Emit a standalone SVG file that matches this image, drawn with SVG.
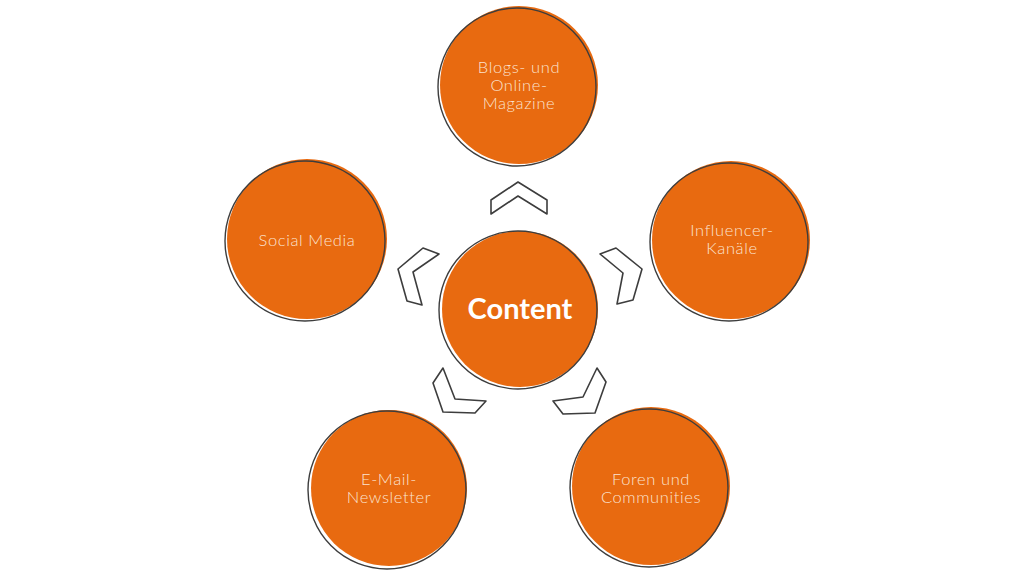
<svg xmlns="http://www.w3.org/2000/svg" width="1024" height="576" viewBox="0 0 1024 576">
<style>
.fill{fill:#E86A10;}
.ring{fill:none;stroke:#3d3d3d;stroke-width:1.4;}
.lbl{font-family:Lato,"Liberation Sans",sans-serif;font-size:16.5px;font-weight:300;letter-spacing:0.6px;fill:#FBE2CF;text-anchor:middle;}
.main{font-family:Lato,"Liberation Sans",sans-serif;font-size:29px;font-weight:bold;fill:#ffffff;text-anchor:middle;}
.chev{fill:#ffffff;stroke:#3d3d3d;stroke-width:1.6;stroke-linejoin:round;}
</style>
<rect width="1024" height="576" fill="#ffffff"/>
<g id="connectors">
<polygon class="chev" points="491,200 518,182 547,200 547,214 518,196 491,214"/>
<polygon class="chev" points="423,248 398,269 407,301 422,305 413,272 439,254"/>
<polygon class="chev" points="616,248 642,269 633,300 617,304 623,273 600,254"/>
<polygon class="chev" points="443,368 433,383 443,412 475,413 486,401 455,399"/>
<polygon class="chev" points="597,368 606,382 595,413 563,414 553,401 583,397"/>
</g>
<g id="node-content">
<circle class="fill" cx="520" cy="309" r="78"/>
<circle class="ring" cx="518" cy="310" r="79"/>
<text class="main" x="520" y="319">Content</text>
</g>
<g id="node-blogs">
<circle class="fill" cx="519" cy="85" r="79"/>
<circle class="ring" cx="517" cy="87" r="79"/>
<text class="lbl" x="519" y="73">Blogs- und</text>
<text class="lbl" x="519" y="91">Online-</text>
<text class="lbl" x="519" y="109">Magazine</text>
</g>
<g id="node-social">
<circle class="fill" cx="307" cy="239" r="80"/>
<circle class="ring" cx="305" cy="241" r="80"/>
<text class="lbl" x="307" y="246">Social Media</text>
</g>
<g id="node-influencer">
<circle class="fill" cx="731" cy="240" r="79"/>
<circle class="ring" cx="729" cy="242" r="79"/>
<text class="lbl" x="732" y="236">Influencer-</text>
<text class="lbl" x="732" y="254">Kanäle</text>
</g>
<g id="node-email">
<circle class="fill" cx="389" cy="488" r="78"/>
<circle class="ring" cx="387" cy="490" r="79"/>
<text class="lbl" x="389" y="485">E-Mail-</text>
<text class="lbl" x="389" y="503">Newsletter</text>
</g>
<g id="node-foren">
<circle class="fill" cx="651" cy="486" r="79"/>
<circle class="ring" cx="649" cy="488" r="79"/>
<text class="lbl" x="651" y="485">Foren und</text>
<text class="lbl" x="651" y="503">Communities</text>
</g>
</svg>
